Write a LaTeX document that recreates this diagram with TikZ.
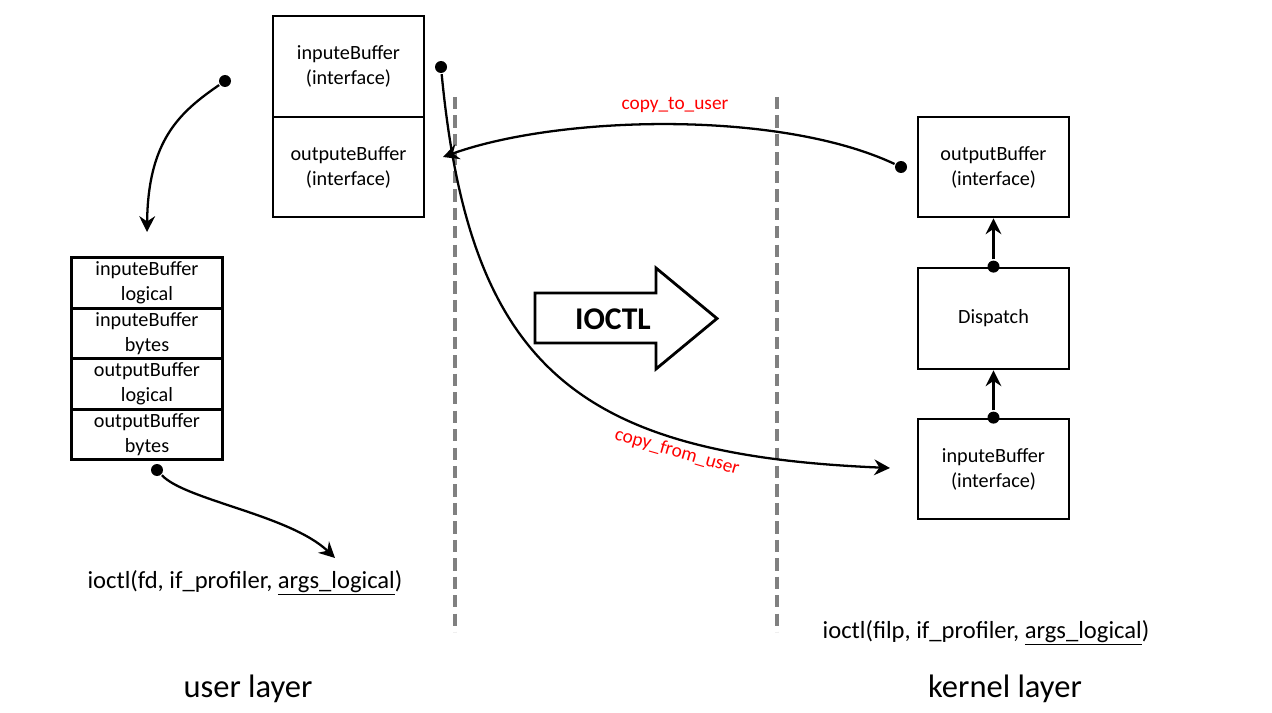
\documentclass[tikz,border=0pt]{standalone}
\usepackage{fontspec}
\setmainfont{Carlito}
\usepackage{tikz}
\usetikzlibrary{positioning,arrows.meta}
\tikzset{
every picture/.style={
line width=1.3pt
}}
\definecolor{dashgray}{RGB}{128,128,128}

\begin{document}
\begin{tikzpicture}[x=0.02cm, y=-0.02cm,
block/.style = {rectangle, draw=black, line width=1.6pt, minimum width=3.02cm, align=center, font=\fontsize{11.5}{14.2}\selectfont},
cell/.style = {block, minimum height=1.01cm, inner sep=0pt, outer sep=0pt},
dot/.style = {circle, fill=black, inner sep=0pt, minimum size=0.24cm},
arr/.style = {-{Stealth[length=9pt,width=9pt,inset=3pt]}},
copylabel/.style = {text=red, font=\fontsize{11}{13}\selectfont},
layer/.style = {dashgray, line width=2.2pt, dash pattern=on 7pt off 3.5pt}]
\useasboundingbox (0,0) rectangle (1272,713);

% layer borders
\draw[layer] (455,97) -- (455,632);
\draw[layer] (777,97) -- (777,632);

% user side
\node[block, minimum height=2.02cm] at (348.5,66.5) (uin) {inputeBuffer\\(interface)};
\node[block, minimum height=2cm] at (348.5,167) (uout) {outputeBuffer\\(interface)};
\node[cell] at (147,283) (s1) {inputeBuffer\\logical};
\node[cell] (s2) [below=0pt of s1] {inputeBuffer\\bytes};
\node[cell] (s3) [below=0pt of s2] {outputBuffer\\logical};
\node[cell] (s4) [below=0pt of s3] {outputBuffer\\bytes};

% kernel side
\node[block, minimum height=2cm] at (993.5,167) (kout) {outputBuffer\\(interface)};
\node[block, minimum height=2.02cm] at (993.5,318.5) (disp) {Dispatch};
\node[block, minimum height=2cm] at (993.5,469) (kin) {inputeBuffer\\(interface)};

\node[dot] at (225,81) (d1) {};
\node[dot] at (441,67) (d2) {};
\node[dot] at (901,167) (d3) {};
\node[dot] at (157,470) (d4) {};
\node[dot] at (disp.north) (d5) {};
\node[dot] at (kin.north) (d6) {};
\coordinate (e1) at (147,232);
\coordinate (e2) at (890,468);
\coordinate (e3) at (443,157);
\coordinate (e4) at (335,558);

\draw[arr] (d1) .. controls (180,112) and (148,140) .. (e1);
\draw[arr] (d2) .. controls (470,370) and (580,455) .. (e2);
\draw[arr] (d3) .. controls (780,110) and (560,115) .. (e3);
\draw[arr] (d4) .. controls (185,500) and (290,515) .. (e4);
\draw[arr] (d5) -- (kout);
\draw[arr] (d6) -- (disp);

\node[copylabel] at (675,105) (ct) {copy\_to\_user};
\node[copylabel, rotate=-16] at (677,452) (cf) {copy\_from\_user};

% IOCTL arrow
\draw[line width=1.6pt] (535,293) -- (656,293) -- (656,268) -- (717,318.5) -- (656,369) -- (656,343) -- (535,343) -- cycle;
\node[font=\bfseries\fontsize{18}{20}\selectfont] at (613,319) (io) {IOCTL};

\node[font=\fontsize{14}{16}\selectfont] at (245,583) (uc) {ioctl(fd, if\_profiler, \underline{args\_logical})};
\node[font=\fontsize{14}{16}\selectfont] at (986,633) (kc) {ioctl(filp, if\_profiler, \underline{args\_logical})};
\node[font=\fontsize{18.5}{20}\selectfont] at (248,689) (ul) {user layer};
\node[font=\fontsize{18.5}{20}\selectfont] at (1005,689) (kl) {kernel layer};
\end{tikzpicture}
\end{document}
